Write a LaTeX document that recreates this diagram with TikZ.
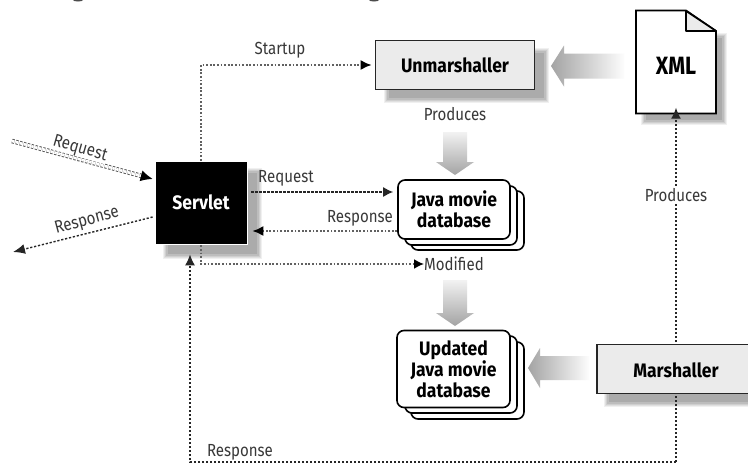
\documentclass[tikz,border=0pt]{standalone}
\usepackage{fontspec}
\setmainfont{Fira Sans}
\usetikzlibrary{arrows.meta,shadings,calc}
\definecolor{boxfill}{gray}{0.92}
\definecolor{labelc}{gray}{0.22}
\tikzset{
  x=1pt,y=-1pt,
  lab/.style={font=\fontsize{17.5}{19}\selectfont\addfontfeatures{FakeStretch=0.86},text=labelc,inner sep=0pt},
  heading/.style={font=\fontsize{19.5}{21}\selectfont\bfseries\addfontfeatures{FakeStretch=0.9},inner sep=0pt,align=center},
  flow/.style={draw=black!85,line width=1.4pt,dash pattern=on 2.2pt off 1.8pt,-{Latex[length=10pt,width=10pt]}},
  pale/.style={draw=black!62,line width=1.7pt,dash pattern=on 1.8pt off 1.8pt,-{Latex[length=11pt,width=10pt,black]}},
  boxs/.style={draw=black!85,line width=1.8pt,fill=boxfill,inner sep=0pt},
  stacked/.style={draw=black,line width=1.6pt,fill=white,rounded corners=7pt},
}
\newcommand{\softshadow}[4]{%
  \fill[black!6] (#1-2,#2-2) rectangle (#3+2,#4+2);
  \fill[black!12] (#1-1,#2-1) rectangle (#3+1,#4+1);
  \fill[black!19] (#1,#2) rectangle (#3,#4);
  \fill[black!26] (#1+1,#2+1) rectangle (#3-1,#4-1);
  \fill[black!33] (#1+3,#2+3) rectangle (#3-3,#4-3);
}
\newcommand{\wideh}[5]{% pointing left: tip x, shaft end x, head-base x, y, shaft half-width
  \shade[left color=black!36,right color=black!1,draw=none]
    (#1,#4) -- (#3,#4-#5-8) -- (#3,#4-#5) -- (#2,#4-#5) -- (#2,#4+#5) -- (#3,#4+#5) -- (#3,#4+#5+8) -- cycle;
}
\newcommand{\widev}[5]{% pointing down: tip y, shaft end y, head-base y, x, shaft half-width
  \shade[top color=black!5,bottom color=black!36,draw=none]
    (#4,#1) -- (#4-#5-7,#3) -- (#4-#5,#3) -- (#4-#5,#2) -- (#4+#5,#2) -- (#4+#5,#3) -- (#4+#5+7,#3) -- cycle;
}
\begin{document}
\begin{tikzpicture}
\useasboundingbox (0,0) rectangle (748,464);
\fill[white] (0,0) rectangle (748,464);
% remnants of the cropped line above the figure
\fill[black!70] (78,0) ellipse (5 and 1.5);
\fill[black!70] (374,0) ellipse (5 and 1.5);

% shadows
\softshadow{165}{170}{260}{257}
\softshadow{386}{50}{547}{101}
\softshadow{643}{35}{725}{123}
\softshadow{606}{358}{760}{405}

% wide arrows
\wideh{551}{624}{564}{66}{12.5}
\widev{175}{132}{162}{455}{12}
\widev{326}{280}{313}{455}{12}
\wideh{528}{589}{540}{368}{12}

% connectors lying under the boxes
\coordinate (corner) at (190,462);
\coordinate (riser) at (676,462);

% boxes
\node[draw=white,fill=black,line width=.8pt,minimum width=92pt,minimum height=83pt,inner sep=0pt,text=white,heading] (servlet) at (201,202.5) {Servlet};
\node[boxs,minimum width=159pt,minimum height=49pt,heading] (unm) at (455,65) {Unmarshaller};

% XML document
\draw[black,line width=1.8pt,fill=white,line join=miter] (636,10.5) -- (686,10.5) -- (716,31) -- (716,113.5) -- (636,113.5) -- cycle;
\draw[black,line width=1.6pt,fill=boxfill,line join=round] (686,11) -- (686,31) -- (716,31) -- cycle;
\node[inner sep=0pt,minimum width=80pt,minimum height=103pt] (xml) at (676,62) {};
\node[font=\fontsize{25}{27}\selectfont\bfseries\addfontfeatures{FakeStretch=0.86},inner sep=0pt] (xmltext) at (676,66) {XML};

% stacks
\draw[stacked] (411,191) rectangle (524,250);
\draw[stacked] (405,186) rectangle (517,245);
\node[stacked,minimum width=112pt,minimum height=59pt,inner sep=0pt,heading] (java) at (454,209.5) {Java movie\\database};
\draw[stacked] (411,342) rectangle (524,419);
\draw[stacked] (405,336) rectangle (517,413);
\node[stacked,minimum width=113pt,minimum height=77pt,inner sep=0pt,heading] (upd) at (453.5,369) {Updated\\Java movie\\database};

% connectors
\node[lab] (startl) at (280,50) {Startup};
\draw[pale,shorten >=3pt] (servlet.north) |- (unm.west);
\node[lab] at (455,114) {Produces};

\node[lab] (reql) at (286,178) {Request};
\draw[flow,shorten >=4pt,shorten <=4pt] ([yshift=10.5pt]servlet.east) -- ([yshift=10.5pt]servlet.east -| java.west);
\node[lab] (resl) at (360,218) {Response};
\draw[pale,shorten >=5pt] ([yshift=-28.5pt]servlet.east -| java.west) -- ([yshift=-28.5pt]servlet.east);

\node[lab,anchor=west] (modl) at (424,264) {Modified};
\draw[pale,-{Latex[length=10pt,width=10pt,black]}] ([yshift=-1pt]servlet.south) |- (modl.west);

% outer flows
\coordinate (reqin) at (12,141);
\draw[draw=black!65,line width=1pt,double=white,double distance=2.6pt,dash pattern=on 2.4pt off 1.6pt,-{Latex[length=12pt,width=11pt,black]},shorten >=2pt] (reqin) -- ([yshift=23pt]servlet.west);
\node[lab,fill=white,rotate=-16,inner ysep=0pt] at (80,149) {Request};
\coordinate (resout) at (13,252);
\draw[flow,-{Latex[length=12pt,width=10pt]}] ([yshift=-14.5pt,xshift=-2pt]servlet.west) -- (resout);
\node[lab,fill=white,rotate=15,inner ysep=0pt] at (87,221) {Response};

% Response / Produces flow round the bottom
\draw[flow,-{Latex[length=11pt,width=10pt]}] (riser) -- (corner) -- ([xshift=-11pt,yshift=-10pt]servlet.south);
\draw[flow,-{Latex[length=11pt,width=10pt]},shorten >=-6pt] (riser) -- (xml.south);
\node[lab,fill=white,inner ysep=2pt,inner xsep=3pt] at (676,195) {Produces};
\node[lab] at (240,452) {Response};

% Marshaller lies over the riser
\node[boxs,minimum width=155pt,minimum height=49pt,anchor=west,heading] (mar) at (596,369) {};
\node[heading] (martext) at (676,370) {Marshaller};
\end{tikzpicture}
\end{document}
